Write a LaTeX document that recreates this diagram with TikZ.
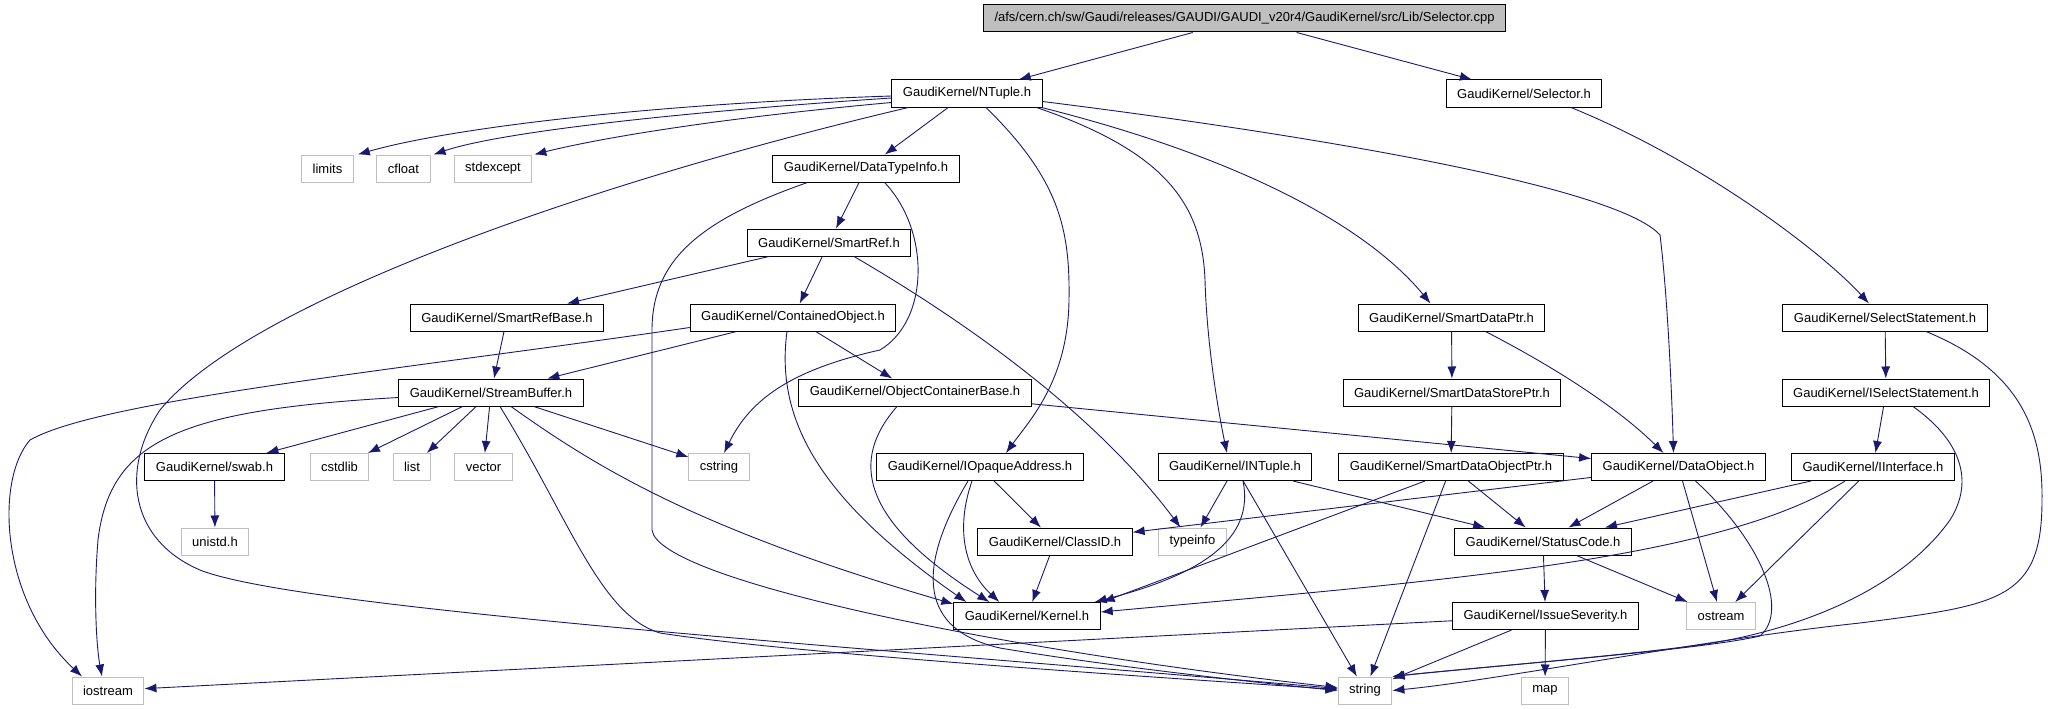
\documentclass[tikz,border=0pt]{standalone}
\usepackage{fontspec}
\setmainfont{Liberation Sans}
\usetikzlibrary{arrows.meta,calc}
\definecolor{DoxEdge}{HTML}{191970}
\definecolor{DoxGrey}{HTML}{BFBFBF}

\begin{document}
\begin{tikzpicture}[x=1pt,y=-1pt,
  hdr/.style={draw=black,fill=white,line width=1pt,font=\fontsize{13}{15}\selectfont,
    inner xsep=11pt,inner ysep=0pt,minimum height=27pt},
  ext/.style={hdr,draw=DoxGrey},
  edge/.style={DoxEdge,line width=0.9pt,-{Latex[length=12pt,width=9pt]}}]
  \useasboundingbox (0,0) rectangle (2048,709);
  \node[hdr,fill=DoxGrey] (root) at (1244.5,18.5)
    {/afs/cern.ch/sw/Gaudi/releases/GAUDI/GAUDI\_v20r4/GaudiKernel/src/Lib/Selector.cpp};
  \foreach \n/\x/\y/\t in {
    ntuple/967/93.5/NTuple.h,
    selector/1524/93.5/Selector.h,
    datatypeinfo/866/168.5/DataTypeInfo.h,
    smartref/829/242.5/SmartRef.h,
    smartrefbase/507/317.5/SmartRefBase.h,
    contained/793/317.5/ContainedObject.h,
    smartdataptr/1451.5/317.5/SmartDataPtr.h,
    selectstmt/1885/317.5/SelectStatement.h,
    streambuffer/491/392.5/StreamBuffer.h,
    objcontainer/915/392.5/ObjectContainerBase.h,
    smartdatastore/1452/392.5/SmartDataStorePtr.h,
    iselectstmt/1886/392.5/ISelectStatement.h,
    swab/214.5/467/swab.h,
    iopaque/980/467/IOpaqueAddress.h,
    intuple/1235/467/INTuple.h,
    smartdataobj/1451/467/SmartDataObjectPtr.h,
    dataobject/1678.5/467/DataObject.h,
    iinterface/1873/467/IInterface.h,
    classid/1055/541.5/ClassID.h,
    statuscode/1543/541.5/StatusCode.h,
    kernel/1027/616/Kernel.h,
    issue/1545.5/616/IssueSeverity.h}
    \node[hdr] (\n) at (\x,\y) {GaudiKernel/\t};
  \foreach \n/\x/\y/\t in {
    limits/327.5/168.5/limits,
    cfloat/403.5/168.5/cfloat,
    stdexcept/493/168.5/stdexcept,
    cstdlib/339.5/467/cstdlib,
    list/412/467/list,
    vector/483.5/467/vector,
    cstring/719/467/cstring,
    unistd/215/541.5/unistd.h,
    typeinfo/1192.5/541.5/typeinfo,
    ostream/1721/616/ostream,
    iostream/108/690.5/iostream,
    string/1365/690.5/string,
    map/1545/690.5/map}
    \node[ext] (\n) at (\x,\y) {\t};

  \foreach \a/\b in {root/ntuple, root/selector, ntuple/datatypeinfo, datatypeinfo/smartref,
    smartref/smartrefbase, smartref/contained, smartrefbase/streambuffer, contained/streambuffer,
    contained/objcontainer, streambuffer/swab, streambuffer/cstdlib, streambuffer/list,
    streambuffer/vector, streambuffer/cstring, swab/unistd, objcontainer/dataobject,
    smartdataptr/smartdatastore, smartdatastore/smartdataobj, selectstmt/iselectstmt,
    iselectstmt/iinterface, iopaque/classid, classid/kernel, intuple/typeinfo, intuple/string,
    intuple/statuscode, smartdataobj/statuscode, smartdataobj/string, dataobject/classid,
    dataobject/statuscode, dataobject/ostream, iinterface/statuscode, iinterface/ostream,
    statuscode/issue, statuscode/ostream, issue/string, issue/map, issue/iostream}
    \draw[edge] (\a) -- (\b);

  \draw[edge] ($(ntuple.west)+(0,2.5)$) .. controls (650,104) and (450,128) .. ($(limits.north east)+(4,0)$);
  \draw[edge] ($(ntuple.west)+(0,4.5)$) .. controls (680,112) and (500,132) .. ($(cfloat.north east)+(3,0)$);
  \draw[edge] ($(ntuple.west)+(0,9)$) .. controls (720,118) and (600,138) .. ($(stdexcept.north east)+(2,0)$);
  \draw[edge] ($(ntuple.south west)+(17,0)$) .. controls (600,180) and (250,300) .. (160,410)
    .. controls (120,470) and (130,540) .. (200,570) .. controls (300,610) and (900,650) .. ($(string.west)+(0,-2)$);
  \draw[edge] ($(ntuple.south)+(19,0)$) .. controls (1060,180) and (1070,230) .. (1069,300)
    .. controls (1068,380) and (1030,420) .. ($(iopaque.north)+(26,0)$);
  \draw[edge] ($(ntuple.south east)+(-6,0)$) .. controls (1160,150) and (1202,200) .. (1205,280)
    .. controls (1207,350) and (1220,420) .. ($(intuple.north)+(-8,0)$);
  \draw[edge] ($(ntuple.south east)+(-1,0)$) .. controls (1250,160) and (1370,230) .. ($(smartdataptr.north)+(-21,0)$);
  \draw[edge] ($(ntuple.east)+(0,8)$) .. controls (1350,140) and (1620,190) .. (1660,235)
    .. controls (1668,300) and (1672,400) .. ($(dataobject.north)+(-5,0)$);
  \draw[edge] ($(selector.south)+(47,0)$) .. controls (1700,160) and (1820,250) .. ($(selectstmt.north)+(-16,0)$);
  \draw[edge] ($(datatypeinfo.south west)+(35,0)$) .. controls (700,220) and (652,260) .. (652,330) -- (652,530)
    .. controls (658,580) and (1000,650) .. ($(string.west)+(0,-3)$);
  \draw[edge] ($(datatypeinfo.south east)+(-75,0)$) .. controls (930,230) and (930,320) .. (880,350)
    .. controls (790,370) and (750,400) .. ($(cstring.north)+(5,0)$);
  \draw[edge] ($(smartref.south)+(25,0)$) .. controls (980,330) and (1100,420) .. ($(typeinfo.north)+(-12,0)$);
  \draw[edge] ($(contained.west)+(0,10)$) .. controls (400,370) and (100,400) .. (30,440)
    .. controls (-5,480) and (0,600) .. ($(iostream.north)+(-26,0)$);
  \draw[edge] ($(contained.south)+(-6,0)$) .. controls (775,420) and (820,500) .. ($(kernel.north west)+(13,0)$);
  \draw[edge] ($(streambuffer.west)+(0,5)$) .. controls (180,410) and (110,440) .. (98,540)
    .. controls (93,600) and (97,650) .. ($(iostream.north)+(-6,0)$);
  \draw[edge] ($(streambuffer.south)+(9,0)$) .. controls (570,520) and (600,615) .. (660,633)
    .. controls (800,655) and (1200,680) .. ($(string.west)+(0,-1)$);
  \draw[edge] ($(streambuffer.south)+(20,0)$) .. controls (600,470) and (700,530) .. ($(kernel.north west)+(0,2)$);
  \draw[edge] ($(objcontainer.south)+(-18,0)$) .. controls (850,460) and (860,520) .. ($(kernel.north west)+(36,0)$);
  \draw[edge] ($(iopaque.south)+(-8,0)$) .. controls (955,530) and (965,570) .. ($(kernel.north west)+(46,0)$);
  \draw[edge] ($(iopaque.south)+(-12,0)$) .. controls (915,570) and (920,630) .. (1000,648)
    .. controls (1100,665) and (1250,682) .. (string.west);
  \draw[edge] ($(intuple.south)+(8,0)$) .. controls (1255,540) and (1200,575) .. ($(kernel.north east)+(-6,0)$);
  \draw[edge] ($(smartdataobj.south)+(-26,0)$) -- ($(kernel.north east)+(2,0)$);
  \draw[edge] ($(smartdataptr.south)+(34,0)$) .. controls (1560,370) and (1620,410) .. ($(dataobject.north)+(-15,0)$);
  \draw[edge] ($(iinterface.south)+(-28,0)$) .. controls (1720,560) and (1450,580) .. ($(kernel.east)+(0,-4)$);
  \draw[edge] ($(dataobject.south)+(17,0)$) .. controls (1760,540) and (1790,610) .. (1760,636)
    .. controls (1700,650) and (1500,665) .. (string.north east);
  \draw[edge] ($(iselectstmt.south)+(27,0)$) .. controls (1960,440) and (1975,480) .. (1950,520)
    .. controls (1900,590) and (1800,630) .. (1700,645) .. controls (1600,658) and (1450,670) .. (string.north east);
  \draw[edge] ($(selectstmt.south)+(41,0)$) .. controls (2020,370) and (2043,430) .. (2042,500)
    .. controls (2042,600) and (2000,605) .. (1860,623) .. controls (1700,640) and (1500,680) .. (string.east);
\end{tikzpicture}
\end{document}
